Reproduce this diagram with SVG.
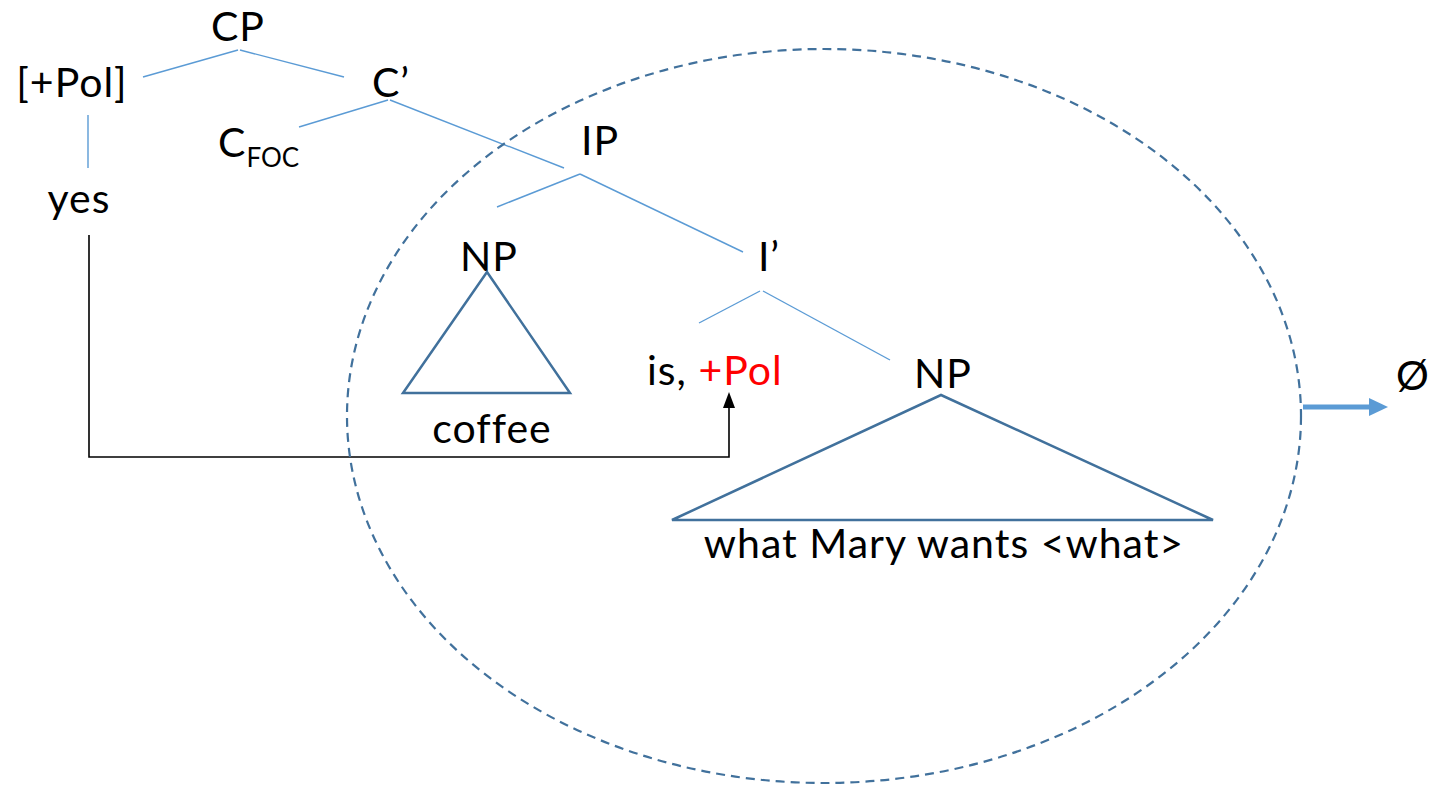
<svg xmlns="http://www.w3.org/2000/svg" width="1433" height="796" viewBox="0 0 1433 796">
<style>
text{font-family:Lato,"Open Sans","Liberation Sans",sans-serif;font-size:41px;letter-spacing:1px;fill:#000}
.t{stroke:#5B9BD5;stroke-width:1.4;fill:none}
.tri{stroke:#41719C;stroke-width:2.5;fill:none}
.red{fill:#FF0000}
</style>
<rect width="1433" height="796" fill="#fff"/>
<g id="connectors">
<line class="t" x1="143" y1="77" x2="238" y2="50"/>
<line class="t" x1="240" y1="50" x2="344" y2="77"/>
<line class="t" x1="88" y1="115" x2="88" y2="168"/>
<line class="t" x1="299" y1="127" x2="388" y2="100"/>
<line class="t" x1="390" y1="100" x2="564" y2="168"/>
<line class="t" x1="497" y1="207" x2="580" y2="174"/>
<line class="t" x1="580" y1="174" x2="743" y2="252"/>
<line class="t" x1="699" y1="323" x2="760" y2="291"/>
<line class="t" x1="763" y1="291" x2="890" y2="360"/>
<polyline points="89,235 89,457 729,457 729,408" fill="none" stroke="#000" stroke-width="1.6"/>
<polygon points="729,392 723,408 735,408" fill="#000"/>
<line x1="1303" y1="407" x2="1370" y2="407" stroke="#5B9BD5" stroke-width="5"/>
<polygon points="1388,407 1369,398 1369,416" fill="#5B9BD5"/>
</g>
<g id="ellipse">
<ellipse cx="824" cy="416" rx="477" ry="367" fill="none" stroke="#41719C" stroke-width="2.2" stroke-dasharray="9,6"/>
</g>
<g id="n-cp"><text x="238" y="41" text-anchor="middle">CP</text></g>
<g id="n-pol"><text x="72" y="97" text-anchor="middle">[+Pol]</text></g>
<g id="n-cbar"><text x="391" y="97" text-anchor="middle">C’</text></g>
<g id="n-cfoc"><text x="218" y="157">C<tspan font-size="26" letter-spacing="0" dy="10">FOC</tspan></text></g>
<g id="n-yes"><text x="79" y="213" text-anchor="middle">yes</text></g>
<g id="n-ip"><text x="600" y="155" text-anchor="middle">IP</text></g>
<g id="n-np1"><text x="489" y="271" text-anchor="middle">NP</text>
<polygon class="tri" points="487,272 403,393 570,393"/>
<text x="492" y="443" text-anchor="middle">coffee</text></g>
<g id="n-ibar"><text x="769" y="271" text-anchor="middle">I’</text></g>
<g id="n-is"><text x="647" y="385">is, <tspan class="red">+Pol</tspan></text></g>
<g id="n-np2"><text x="943" y="388" text-anchor="middle">NP</text>
<polygon class="tri" points="941,395 672,520 1213,520"/>
<text x="944" y="558" text-anchor="middle">what Mary wants &lt;what&gt;</text></g>
<g id="n-empty"><text x="1396" y="390" font-size="47">Ø</text></g>
</svg>
